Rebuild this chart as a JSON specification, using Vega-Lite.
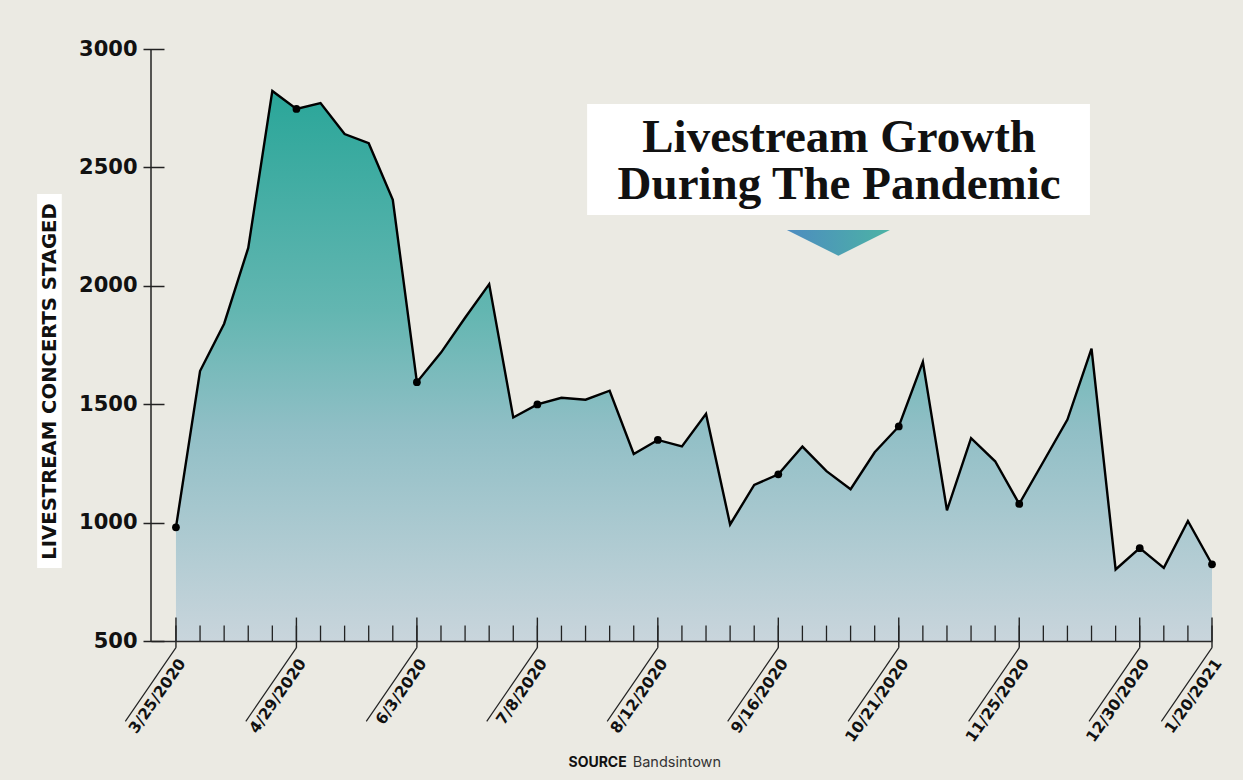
{
  "$schema": "https://vega.github.io/schema/vega-lite/v6.json",
  "autosize": {"type": "none"},
  "width": 1061,
  "height": 592,
  "padding": {"left": 151, "top": 49, "right": 31, "bottom": 139},
  "background": "#EBEAE3",
  "config": {"view": {"stroke": null}},
  "data": {
    "format": {"parse": {"date": "utc:'%Y-%m-%d'"}},
    "values": [
      {"date": "2020-03-25", "value": 980},
      {"date": "2020-04-01", "value": 1640},
      {"date": "2020-04-08", "value": 1840},
      {"date": "2020-04-15", "value": 2160},
      {"date": "2020-04-22", "value": 2823},
      {"date": "2020-04-29", "value": 2747},
      {"date": "2020-05-06", "value": 2772},
      {"date": "2020-05-13", "value": 2641},
      {"date": "2020-05-20", "value": 2602},
      {"date": "2020-05-27", "value": 2363},
      {"date": "2020-06-03", "value": 1593},
      {"date": "2020-06-10", "value": 1718},
      {"date": "2020-06-17", "value": 1865},
      {"date": "2020-06-24", "value": 2007},
      {"date": "2020-07-01", "value": 1444},
      {"date": "2020-07-08", "value": 1499},
      {"date": "2020-07-15", "value": 1527},
      {"date": "2020-07-22", "value": 1519},
      {"date": "2020-07-29", "value": 1557},
      {"date": "2020-08-05", "value": 1290},
      {"date": "2020-08-12", "value": 1349},
      {"date": "2020-08-19", "value": 1322},
      {"date": "2020-08-26", "value": 1459},
      {"date": "2020-09-02", "value": 992},
      {"date": "2020-09-09", "value": 1159},
      {"date": "2020-09-16", "value": 1204},
      {"date": "2020-09-23", "value": 1321},
      {"date": "2020-09-30", "value": 1217},
      {"date": "2020-10-07", "value": 1141},
      {"date": "2020-10-14", "value": 1297},
      {"date": "2020-10-21", "value": 1406},
      {"date": "2020-10-28", "value": 1679},
      {"date": "2020-11-04", "value": 1052},
      {"date": "2020-11-11", "value": 1357},
      {"date": "2020-11-18", "value": 1259},
      {"date": "2020-11-25", "value": 1079},
      {"date": "2020-12-02", "value": 1257},
      {"date": "2020-12-09", "value": 1435},
      {"date": "2020-12-16", "value": 1735},
      {"date": "2020-12-23", "value": 802},
      {"date": "2020-12-30", "value": 892},
      {"date": "2021-01-06", "value": 809},
      {"date": "2021-01-13", "value": 1007},
      {"date": "2021-01-20", "value": 824}
    ]
  },
  "encoding": {
    "x": {
      "field": "date",
      "type": "temporal",
      "scale": {
        "type": "utc",
        "domain": [
          {"year": 2020, "month": 3, "date": 17, "hours": 18, "utc": true},
          {"year": 2021, "month": 1, "date": 20, "utc": true}
        ]
      },
      "axis": {
        "title": null,
        "values": [
          {"year": 2020, "month": 3, "date": 25, "utc": true},
          {"year": 2020, "month": 4, "date": 29, "utc": true},
          {"year": 2020, "month": 6, "date": 3, "utc": true},
          {"year": 2020, "month": 7, "date": 8, "utc": true},
          {"year": 2020, "month": 8, "date": 12, "utc": true},
          {"year": 2020, "month": 9, "date": 16, "utc": true},
          {"year": 2020, "month": 10, "date": 21, "utc": true},
          {"year": 2020, "month": 11, "date": 25, "utc": true},
          {"year": 2020, "month": 12, "date": 30, "utc": true},
          {"year": 2021, "month": 1, "date": 20, "utc": true}
        ],
        "labelExpr": "utcFormat(datum.value, '%-m/%-d/%Y')",
        "ticks": false,
        "grid": false,
        "domainColor": "#2a2a2a",
        "domainWidth": 1.6,
        "labelAngle": -55,
        "labelAlign": "right",
        "labelBaseline": "top",
        "labelPadding": 15,
        "labelOffset": 0,
        "labelFont": "DejaVu Sans",
        "labelFontWeight": "bold",
        "labelFontSize": 15.5,
        "labelColor": "#111111",
        "labelFlush": false,
        "labelOverlap": false,
        "zindex": 1
      }
    },
    "y": {
      "field": "value",
      "type": "quantitative",
      "scale": {"domain": [500, 3000], "zero": false, "nice": false},
      "axis": {
        "values": [500, 1000, 1500, 2000, 2500, 3000],
        "format": "d",
        "offset": -13,
        "domain": false,
        "grid": false,
        "tickSize": 21,
        "tickWidth": 1.5,
        "tickColor": "#222222",
        "labelPadding": 6,
        "labelFont": "DejaVu Sans",
        "labelFontWeight": "bold",
        "labelFontSize": 21,
        "labelColor": "#111111",
        "labelFlush": false,
        "labelOverlap": false,
        "title": "LIVESTREAM CONCERTS STAGED",
        "titleFont": "DejaVu Sans",
        "titleFontWeight": "bold",
        "titleFontSize": 19.6,
        "titleColor": "#111111",
        "titleAngle": 270,
        "titleAlign": "center",
        "titleBaseline": "middle",
        "titleX": -114.5,
        "titleY": 332,
        "zindex": 1
      }
    }
  },
  "layer": [
    {
      "mark": {
        "type": "area",
        "fill": {
          "gradient": "linear",
          "x1": 0, "y1": 0, "x2": 0, "y2": 1,
          "stops": [
            {"offset": 0, "color": "#2aa699"},
            {"offset": 0.4, "color": "#63b6b1"},
            {"offset": 0.62, "color": "#91bfc6"},
            {"offset": 1, "color": "#c9d5dc"}
          ]
        }
      },
      "encoding": {"y2": {"datum": 500}}
    },
    {
      "mark": {"type": "line", "color": "#000000", "strokeWidth": 2.4, "strokeJoin": "miter"}
    },
    {
      "mark": {"type": "rule", "color": "#222222", "strokeWidth": 1.3},
      "encoding": {"y": {"datum": 500}, "y2": {"datum": 565}}
    },
    {
      "transform": [
        {"filter": "indexof([0,5,10,15,20,25,30,35,40,43], round((time(datum.date) - utc(2020,2,25)) / 604800000)) >= 0"}
      ],
      "layer": [
        {
          "mark": {"type": "rule", "color": "#222222", "strokeWidth": 1.4},
          "encoding": {"y": {"datum": 471}, "y2": {"datum": 599}}
        },
        {
          "mark": {
            "type": "point",
            "shape": "M0,0L-0.687,1",
            "size": 21727,
            "filled": false,
            "stroke": "#222222",
            "strokeWidth": 1.2,
            "opacity": 1
          },
          "encoding": {"y": {"datum": 472}}
        },
        {
          "mark": {"type": "point", "filled": true, "color": "#000000", "size": 60, "opacity": 1}
        }
      ]
    },
    {
      "transform": [{"filter": "time(datum.date) == utc(2021,0,20)"}],
      "layer": [
        {
          "mark": {"type": "rule", "color": "#222222", "strokeWidth": 1.5},
          "encoding": {
            "x": {"datum": {"year": 2020, "month": 3, "date": 17, "hours": 18, "utc": true}},
            "y": {"datum": 500},
            "y2": {"datum": 3000}
          }
        },
        {
          "mark": {"type": "rect", "color": "#ffffff"},
          "encoding": {
            "x": {"datum": {"year": 2020, "month": 7, "date": 22, "hours": 11, "utc": true}},
            "x2": {"datum": {"year": 2020, "month": 12, "date": 15, "hours": 13, "utc": true}},
            "y": {"datum": 2768},
            "y2": {"datum": 2299}
          }
        },
        {
          "mark": {
            "type": "text",
            "text": ["Livestream Growth", "During The Pandemic"],
            "font": "Liberation Serif",
            "fontWeight": "bold",
            "fontSize": 47,
            "lineHeight": 47,
            "align": "center",
            "baseline": "alphabetic",
            "color": "#111111"
          },
          "encoding": {
            "x": {"datum": {"year": 2020, "month": 10, "date": 3, "hours": 16, "utc": true}},
            "y": {"datum": 2565}
          }
        },
        {
          "mark": {
            "type": "point",
            "shape": "M-1,-0.25L1,-0.25L0,0.25Z",
            "size": 10609,
            "filled": true,
            "opacity": 1,
            "strokeWidth": 0,
            "fill": {
              "gradient": "linear",
              "x1": 0, "y1": 0, "x2": 1, "y2": 0,
              "stops": [
                {"offset": 0, "color": "#4d8cc0"},
                {"offset": 1, "color": "#4cb3a5"}
              ]
            }
          },
          "encoding": {
            "x": {"datum": {"year": 2020, "month": 10, "date": 3, "hours": 11, "utc": true}},
            "y": {"datum": 2181}
          }
        },
        {
          "mark": {"type": "rect", "color": "#ffffff"},
          "encoding": {
            "x": {"datum": {"year": 2020, "month": 2, "date": 13, "hours": 16, "utc": true}},
            "x2": {"datum": {"year": 2020, "month": 2, "date": 20, "hours": 20, "utc": true}},
            "y": {"datum": 2388},
            "y2": {"datum": 808}
          }
        },
        {
          "mark": {
            "type": "text",
            "text": "SOURCE",
            "font": "Inter",
            "fontWeight": "bold",
            "fontSize": 14,
            "align": "right",
            "baseline": "alphabetic",
            "dx": -3,
            "color": "#111111"
          },
          "encoding": {
            "x": {"datum": {"year": 2020, "month": 8, "date": 3, "hours": 20, "utc": true}},
            "y": {"datum": -34}
          }
        },
        {
          "mark": {
            "type": "text",
            "text": "Bandsintown",
            "font": "Inter",
            "fontSize": 14.5,
            "align": "left",
            "baseline": "alphabetic",
            "dx": 3,
            "color": "#333333"
          },
          "encoding": {
            "x": {"datum": {"year": 2020, "month": 8, "date": 3, "hours": 20, "utc": true}},
            "y": {"datum": -34}
          }
        }
      ]
    }
  ]
}
